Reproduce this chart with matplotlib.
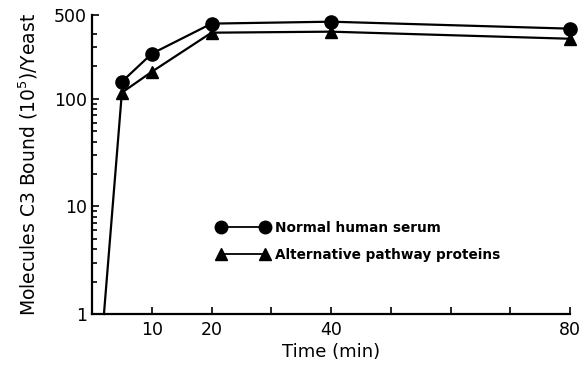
import matplotlib.pyplot as plt
from matplotlib.ticker import FixedLocator, NullFormatter

# Дані
time_serum = [5, 10, 20, 40, 80]
c3_serum = [144, 262, 499, 520, 448]

time_alt = [2, 5, 10, 20, 40, 80]
c3_alt = [1, 114, 178, 411, 420, 361]

x_major = [10, 20, 40, 80]
x_minor = [30, 50, 60, 70]
y_major = [1, 10, 100, 600]
y_major_labels = ["1", "10", "100", "500"]
y_minor = [2, 3, 4, 5, 6, 7, 8, 9, 20, 30, 40, 50, 60, 70, 80, 90, 200, 300, 400]


def main():
    fig = plt.figure(figsize=(5.85, 3.66), dpi=100)
    ax = fig.add_axes([92 / 585, 52 / 366, 478 / 585, 299 / 366])

    ax.plot(time_serum, c3_serum, color="black", linewidth=1.6, marker="o",
            markersize=9.5, label="Normal human serum", clip_on=False, zorder=3)
    ax.plot(time_alt, c3_alt, color="black", linewidth=1.6, marker="^",
            markersize=9, markevery=list(range(1, len(time_alt))),
            label="Alternative pathway proteins", clip_on=False, zorder=3)

    ax.set_yscale("log")
    ax.set_xlim(0, 80)
    ax.set_ylim(1, 600)

    ax.xaxis.set_major_locator(FixedLocator(x_major))
    ax.xaxis.set_minor_locator(FixedLocator(x_minor))
    ax.set_xticklabels([str(v) for v in x_major])
    ax.yaxis.set_major_locator(FixedLocator(y_major))
    ax.set_yticklabels(y_major_labels)
    ax.yaxis.set_minor_locator(FixedLocator(y_minor))
    ax.yaxis.set_minor_formatter(NullFormatter())

    ax.tick_params(which="both", direction="in", width=1.2, labelsize=12.5,
                   color="black")
    ax.tick_params(which="major", length=5)
    ax.tick_params(which="minor", length=3.5)
    ax.tick_params(axis="x", which="minor", length=5)
    ax.tick_params(axis="x", pad=5)

    for side in ["top", "right"]:
        ax.spines[side].set_visible(False)
    for side in ["left", "bottom"]:
        ax.spines[side].set_linewidth(1.6)

    ax.set_xlabel("Time (min)", fontsize=13, labelpad=3)
    ax.set_ylabel("Molecules C3 Bound (10$^5$)/Yeast", fontsize=13.5, labelpad=10)

    leg = ax.legend(loc="upper left", bbox_to_anchor=(0.262, 0.312), frameon=False,
                    numpoints=2, handlelength=3.8, handletextpad=0.45,
                    labelspacing=0.95, borderaxespad=0, borderpad=0,
                    prop={"weight": "bold", "size": 9.8})
    for h in leg.legend_handles:
        h.set_markersize(9)
        h.set_linewidth(1.3)

    fig.savefig("out.png", dpi=100)


if __name__ == "__main__":
    main()
